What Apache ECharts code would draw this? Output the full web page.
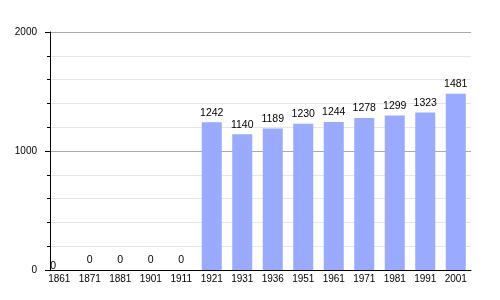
<!DOCTYPE html>
<html><head><meta charset="utf-8">
<script src="https://cdn.jsdelivr.net/npm/echarts@6/dist/echarts.min.js"></script>
<style>html,body{margin:0;padding:0;background:#fff}#c{width:500px;height:300px}</style>
</head><body><div id="c"></div>
<script>
var years = ['1861','1871','1881','1901','1911','1921','1931','1936','1951','1961','1971','1981','1991','2001'];
var population = [0,0,0,0,0,1242,1140,1189,1230,1244,1278,1299,1323,1481];
var yTicks = [0,1000,2000];

var FONT = 'Liberation Sans, Arial, sans-serif';
var chart = echarts.init(document.getElementById('c'), null, {renderer:'canvas'});
var seriesData = population.map(function(v,i){
  var item = {value: v};
  if (i === 0) item.label = {offset: [-6, 6]};
  return item;
});
chart.setOption({
  animation: false,
  backgroundColor: '#fff',
  grid: [
    {left: 44, right: 29, top: 32, bottom: 30},
    {left: 50, right: 29, top: 32, bottom: 30}
  ],
  xAxis: [
    {type: 'category', gridIndex: 0, data: years, boundaryGap: true,
     axisLine: {show: false}, axisTick: {show: false},
     axisLabel: {color: '#000', fontSize: 10, fontFamily: FONT, margin: 4, interval: 0}},
    {type: 'value', gridIndex: 1, min: 0, max: 1, show: true,
     axisLine: {show: true, onZero: false, lineStyle: {color: '#000', width: 1}},
     axisTick: {show: false}, axisLabel: {show: false}, splitLine: {show: false}}
  ],
  yAxis: [
    {type: 'value', gridIndex: 0, min: 0, max: 2000, show: false},
    {type: 'value', gridIndex: 1, min: yTicks[0], max: yTicks[yTicks.length-1], interval: 1000,
     axisLine: {show: true, lineStyle: {color: '#000', width: 1}},
     axisTick: {show: true, length: 5, lineStyle: {color: '#000'}},
     minorTick: {show: true, splitNumber: 5, length: 3, lineStyle: {color: '#000'}},
     axisLabel: {color: '#000', fontSize: 10, fontFamily: FONT, margin: 13,
                 formatter: function(v){ return String(v); }},
     splitLine: {show: true, lineStyle: {color: '#aaaaaa', width: 1}},
     minorSplitLine: {show: true, lineStyle: {color: '#e6e6e6', width: 1}}}
  ],
  series: [{
    type: 'bar', xAxisIndex: 0, yAxisIndex: 0,
    data: seriesData, barWidth: 20,
    itemStyle: {color: '#99aaff'},
    label: {show: true, position: 'top', distance: 4, color: '#000', fontSize: 10.5, fontFamily: FONT}
  }]
});
</script></body></html>
